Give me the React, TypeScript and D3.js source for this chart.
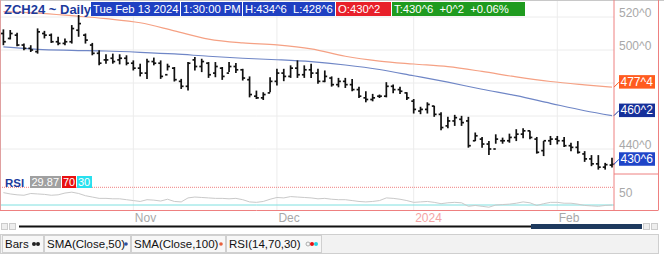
import React from 'react';
import * as d3 from 'd3';

const dates = [
  '2023-10-05','2023-10-06','2023-10-09','2023-10-10','2023-10-11','2023-10-12','2023-10-13','2023-10-16','2023-10-17','2023-10-18','2023-10-19','2023-10-20','2023-10-23','2023-10-24','2023-10-25','2023-10-26','2023-10-27','2023-10-30','2023-10-31',
  '2023-11-01','2023-11-02','2023-11-03','2023-11-06','2023-11-07','2023-11-08','2023-11-09','2023-11-10','2023-11-13','2023-11-14','2023-11-15','2023-11-16','2023-11-17','2023-11-20','2023-11-21','2023-11-22','2023-11-24','2023-11-27','2023-11-28','2023-11-29','2023-11-30',
  '2023-12-01','2023-12-04','2023-12-05','2023-12-06','2023-12-07','2023-12-08','2023-12-11','2023-12-12','2023-12-13','2023-12-14','2023-12-15','2023-12-18','2023-12-19','2023-12-20','2023-12-21','2023-12-22','2023-12-26','2023-12-27','2023-12-28','2023-12-29',
  '2024-01-02','2024-01-03','2024-01-04','2024-01-05','2024-01-08','2024-01-09','2024-01-10','2024-01-11','2024-01-12','2024-01-16','2024-01-17','2024-01-18','2024-01-19','2024-01-22','2024-01-23','2024-01-24','2024-01-25','2024-01-26','2024-01-29','2024-01-30','2024-01-31',
  '2024-02-01','2024-02-02','2024-02-05','2024-02-06','2024-02-07','2024-02-08','2024-02-09','2024-02-12','2024-02-13',
];

const highs = [
  512.5,512.1,510.4,503.9,502.9,513.1,511.6,510.0,508.0,507.0,515.1,521.2,510.0,504.3,499.8,497.4,497.8,497.4,496.8,
  493.7,491.7,494.7,495.4,493.7,491.7,489.7,482.5,492.7,495.8,494.7,492.7,492.7,489.7,492.7,492.1,488.6,484.0,475.4,474.4,483.5,
  488.6,488.6,490.7,493.7,490.7,491.7,488.6,487.6,484.0,483.1,483.1,482.5,477.8,475.0,473.4,473.0,480.5,479.1,477.8,474.4,
  470.3,465.6,468.3,466.2,462.2,459.5,460.7,460.1,459.5,450.0,447.3,444.8,448.9,446.9,449.3,452.0,452.6,451.0,447.3,444.8,447.9,
  447.9,447.3,443.8,444.8,438.7,436.3,436.3,431.6,434.75,
];
const lows = [
  502.9,506.4,502.3,499.8,498.8,497.8,507.0,504.3,502.9,502.9,503.9,508.0,503.9,496.8,490.7,491.7,491.7,491.3,490.7,
  487.6,484.0,482.5,490.7,482.5,487.6,480.9,476.4,475.4,487.6,486.6,483.1,483.5,481.9,486.6,486.0,481.5,471.3,470.3,469.7,474.4,
  478.5,481.1,483.1,483.1,483.1,483.1,479.5,480.5,477.8,477.4,477.0,475.0,470.9,468.3,468.9,470.9,471.3,473.8,473.4,469.7,
  461.5,461.1,461.5,459.5,451.4,452.6,454.0,454.0,440.8,444.8,440.8,436.3,443.2,443.2,443.8,444.8,446.5,445.9,437.2,435.7,442.4,
  442.8,441.2,438.7,437.2,432.2,429.6,427.5,427.5,428.75,
];
const opens = [
  510,507,509,503,501,499,510,509,505,504,505,512,509,503,498,494,495,494,495,
  492,489,486,493,492,485,489,481,478,494,490,492,486,489,486,490,488,482,472,471,474,
  481,486,484,489,485,488,486,481,483,479,481,479,476,471,470,472,472,478,476,474,
  469,463,464,466,461,454,457,458,457,445,446,443,440,445,445,447,449,451,446,439,445,
  446,445,442,441,437,434,431,429,430.25,
];
const closes = [
  505,510,503,501,500,511,509,505,504,505,513,516,506,498,492,494,493,495,492,
  489,486,493,492,484,490,482,478,492,490,493,485,490,484,490,488,483,473,471,473,481,
  486,484,489,485,488,486,481,484,479,481,479,476,472,470,471,472,478,476,475,471,
  464,464,467,461,453,457,459,456,442,448,443,440,446,445,447,449,451,447,438,445,446,
  445,442,441,438,434,431,429,430.5,430.75,
];

const smaIdx = [0,5,10,15,20,25,30,35,40,45,50,55,60,65,70,75,80,85,89];
const sma50 = [501.9,500.4,499.8,499.4,498.6,497.6,496.2,495.0,494.1,492.9,490.9,488.2,484.4,480.5,476.2,472.3,467.7,463.2,460.25];
const sma100 = [523.3,522.4,520.8,519.0,516.5,511.6,506.6,504.3,503.1,500.7,496.2,493.3,491.5,489.9,487.0,483.7,480.9,478.9,477.5];

const rsi = [
  58,55,53,52,56,55,54,52,53,57,59,56,51,48,45,45,44,44,42,
  40,38,42,41,39,43,38,37,46,48,47,46,45,45,44,45,42,37,36,38,43,
  47,46,49,48,47,46,44,45,43,42,42,40,38,37,38,40,46,45,43,40,
  36,37,38,36,33,35,36,35,27,29,27,25,30,31,32,34,37,35,29,33,36,
  36,34,34,32,29,28,27,29,29.87,
];

const priceTicks = [520, 500, 480, 460, 440];
const rsiTicks = [50];
const rsiLevels = [70, 30];
const monthLabels = ['Nov', 'Dec', '2024', 'Feb'];
const legendItems = ['Bars', 'SMA(Close,50)', 'SMA(Close,100)', 'RSI(14,70,30)'];

const W = 664, H = 254;
const axisX = 614;
const FONT = "'Liberation Sans', Arial, sans-serif";

function fmt(v: number) {
  const w = Math.floor(v + 1e-9);
  const e = Math.round((v - w) * 8);
  return `${w}^${e}`;
}

export default function App() {
  const n = dates.length;
  const x = d3.scaleLinear().domain([0, n - 1]).range([3.4, 612]);
  const y = d3.scaleLinear().domain([440, 520]).range([149, 17]);
  const yr = d3.scaleLinear().domain([30, 70]).range([205, 187.3]);

  const monthStarts: number[] = [];
  dates.forEach((d, i) => {
    if (i > 0 && d.slice(5, 7) !== dates[i - 1].slice(5, 7)) monthStarts.push(i);
  });

  const lineSma = d3.line<number>().x((_, k) => x(smaIdx[k])).y(v => y(v)).curve(d3.curveMonotoneX);
  const lineRsi = d3.line<number>().x((_, i) => x(i)).y(v => yr(v));

  const last = n - 1;
  const chg = closes[last] - closes[last - 1];
  const pct = (chg / closes[last - 1]) * 100;
  const dt = new Date(dates[last] + 'T13:30:00');
  const dayName = ['Sun','Mon','Tue','Wed','Thu','Fri','Sat'][dt.getDay()];
  const monName = ['Jan','Feb','Mar','Apr','May','Jun','Jul','Aug','Sep','Oct','Nov','Dec'][dt.getMonth()];
  const headerBoxes = [
    { t: `${dayName} ${monName} ${dt.getDate()} ${dt.getFullYear()}`, x0: 91, x1: 180, c: '#1f40c2' },
    { t: '1:30:00 PM', x0: 181, x1: 242, c: '#1f40c2' },
    { t: `H:${fmt(highs[last])}  L:${fmt(lows[last])}`, x0: 243, x1: 335, c: '#1f40c2' },
    { t: `O:${fmt(opens[last])}`, x0: 336, x1: 391, c: '#e8202a' },
    { t: `T:${fmt(closes[last])}  ${chg >= 0 ? '+' : '-'}${fmt(Math.abs(chg))}  ${chg >= 0 ? '+' : '-'}${Math.abs(pct).toFixed(2)}%`, x0: 392, x1: 525, c: '#1f9b1f' },
  ];

  const valueLabels = [
    { v: sma100[sma100.length - 1], c: '#ff5b1f' },
    { v: sma50[sma50.length - 1], c: '#16309a' },
    { v: closes[last], c: '#1f45c8' },
  ];

  const legendX = [[2, 43], [44, 130], [131, 225], [226, 321]];

  return (
    <svg width={W} height={H} style={{ position: 'absolute', left: 0, top: 0, background: '#fff' }} fontFamily={FONT}>
      {/* grid */}
      {priceTicks.map(t => (
        <line key={t} x1={0} x2={axisX} y1={y(t)} y2={y(t)} stroke="#ececec" strokeWidth={1} />
      ))}
      {monthStarts.map(i => (
        <line key={i} x1={x(i)} x2={x(i)} y1={0} y2={210} stroke="#ececec" strokeWidth={1} />
      ))}
      {/* SMA lines */}
      <path d={lineSma(sma100) || ''} fill="none" stroke="#f5a184" strokeWidth={1.2} />
      <path d={lineSma(sma50) || ''} fill="none" stroke="#6f86c6" strokeWidth={1.2} />
      {/* OHLC bars */}
      {dates.map((d, i) => (
        <g key={d} stroke="#111" strokeWidth={1.7}>
          <line x1={x(i)} x2={x(i)} y1={y(highs[i])} y2={y(lows[i])} />
          <line x1={x(i) - 2.4} x2={x(i)} y1={y(opens[i])} y2={y(opens[i])} />
          <line x1={x(i)} x2={x(i) + 2.4} y1={y(closes[i])} y2={y(closes[i])} />
        </g>
      ))}
      {/* RSI panel */}
      <line x1={0} x2={axisX} y1={yr(rsiLevels[0])} y2={yr(rsiLevels[0])} stroke="#f08080" strokeWidth={1} strokeDasharray="1 1" />
      <line x1={0} x2={axisX} y1={yr(rsiLevels[1])} y2={yr(rsiLevels[1])} stroke="#7fe0e0" strokeWidth={1} />
      <path d={lineRsi(rsi) || ''} fill="none" stroke="#c9c9c9" strokeWidth={1} />
      {/* frame */}
      <line x1={0} x2={W} y1={0.5} y2={0.5} stroke="#c8c8c8" />
      <line x1={0.5} x2={0.5} y1={0} y2={210} stroke="#e0a0a0" />
      <line x1={axisX} x2={axisX} y1={0} y2={210} stroke="#ee8080" strokeWidth={1} />
      <line x1={658.5} x2={658.5} y1={0} y2={210} stroke="#ee8080" strokeWidth={1} />
      <line x1={axisX} x2={658.5} y1={174} y2={174} stroke="#ee8080" strokeWidth={1} />
      <line x1={0} x2={658.5} y1={210.5} y2={210.5} stroke="#ee8080" strokeWidth={1} />
      {/* price axis labels */}
      {priceTicks.filter(t => valueLabels.every(l => Math.abs(y(l.v) - y(t)) > 14)).map(t => (
        <text key={t} x={619} y={y(t) - 0.5} fontSize={12} fill="#a8a8a8">{fmt(t)}</text>
      ))}
      {rsiTicks.map(t => (
        <text key={t} x={619} y={yr(t) + 0.5} fontSize={12} fill="#a8a8a8">{t}</text>
      ))}
      {valueLabels.map((l, k) => {
        const vy = y(l.v);
        return (
          <g key={k}>
            <line x1={axisX} y1={vy} x2={619} y2={vy - 5} stroke={l.c} strokeWidth={1} />
            <rect x={619} y={vy - 12} width={36} height={13.5} fill={l.c} />
            <text x={620.5} y={vy - 1.5} fontSize={12} fill="#fff">{fmt(l.v)}</text>
          </g>
        );
      })}
      {/* header */}
      <text x={4} y={13.5} fontSize={13} fontWeight="bold" fill="#1c3a9c">ZCH24 ~ Daily</text>
      {headerBoxes.map((b, k) => (
        <g key={k}>
          <rect x={b.x0} y={2} width={b.x1 - b.x0} height={14} fill={b.c} />
          <text x={b.x0 + 2} y={13} fontSize={11.3} fill="#fff" style={{ whiteSpace: 'pre' }}>{b.t}</text>
        </g>
      ))}
      {/* RSI header */}
      <text x={5} y={186.5} fontSize={11.5} fontWeight="bold" fill="#1c3a9c">RSI</text>
      <rect x={30} y={176} width={31} height={12} fill="#a0a0a0" />
      <text x={31.5} y={186} fontSize={11} fill="#fff">{rsi[last].toFixed(2)}</text>
      <rect x={62} y={176} width={14} height={12} fill="#e81010" />
      <text x={63} y={186} fontSize={11} fill="#fff">{rsiLevels[0]}</text>
      <rect x={77} y={176} width={15} height={12} fill="#28e0ee" />
      <text x={78} y={186} fontSize={11} fill="#fff">{rsiLevels[1]}</text>
      {/* month labels */}
      {monthStarts.map((i, k) => (
        <text key={i} x={x(i) + 1.5} y={222} fontSize={12} fill={monthLabels[k] === '2024' ? '#f4a4a4' : '#a8a8a8'}>{monthLabels[k]}</text>
      ))}
      {/* scrollbar */}
      <rect x={1.5} y={223.5} width={6} height={6} fill="#eee" stroke="#ccc" />
      <rect x={9.5} y={223.5} width={6} height={6} fill="#eee" stroke="#ccc" />
      <rect x={643.5} y={223.5} width={6} height={6} fill="#eee" stroke="#ccc" />
      <rect x={651.5} y={223.5} width={6} height={6} fill="#eee" stroke="#ccc" />
      <line x1={19} x2={641} y1={226.5} y2={226.5} stroke="#111" strokeWidth={2} />
      <rect x={531} y={224} width={111} height={5} fill="#1e3a5e" />
      {/* legend */}
      <rect x={0.5} y={234.5} width={658} height={19} fill="#f2f2f2" stroke="#cfcfcf" />
      {legendItems.map((t, k) => {
        const [a, b] = legendX[k];
        return (
          <g key={t}>
            <rect x={a + 0.5} y={235.5} width={b - a} height={17} fill="#f7f7f7" stroke="#d0d0d0" />
            <text x={a + 3} y={248} fontSize={11.5} fill="#111">{t}</text>
          </g>
        );
      })}
      <circle cx={34} cy={244} r={2} fill="#222" />
      <circle cx={38} cy={244} r={2} fill="#222" />
      <circle cx={126} cy={244} r={1.8} fill="#2a4fa0" />
      <circle cx={221} cy={244} r={1.8} fill="#e8603c" />
      <circle cx={308} cy={244} r={2} fill="none" stroke="#999" strokeWidth={0.8} />
      <circle cx={312} cy={244} r={2} fill="#e81010" />
      <circle cx={316} cy={244} r={2} fill="#28d0e0" />
    </svg>
  );
}
